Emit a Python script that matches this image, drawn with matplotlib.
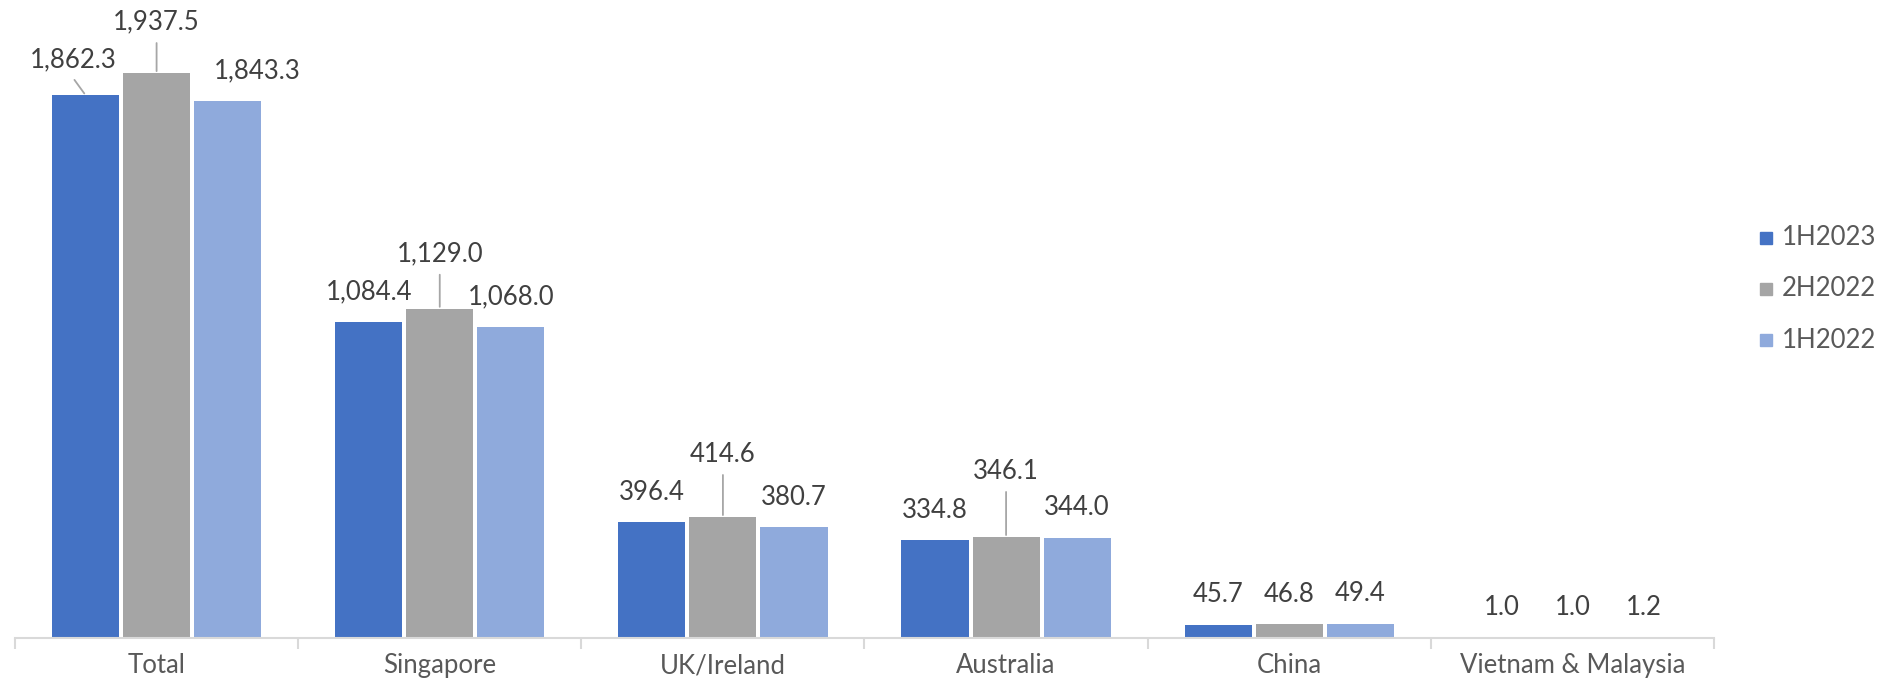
import matplotlib
matplotlib.use("Agg")
import matplotlib.pyplot as plt
from matplotlib.patches import Rectangle
import numpy as np

plt.rcParams['font.family'] = ['Lato', 'DejaVu Sans']

categories = ["Total", "Singapore", "UK/Ireland", "Australia", "China", "Vietnam & Malaysia"]
series_names = ["1H2023", "2H2022", "1H2022"]
v_1h2023 = [1862.3, 1084.4, 396.4, 334.8, 45.7, 1.0]
v_2h2022 = [1937.5, 1129.0, 414.6, 346.1, 46.8, 1.0]
v_1h2022 = [1843.3, 1068.0, 380.7, 344.0, 49.4, 1.2]
series_values = [v_1h2023, v_2h2022, v_1h2022]
colors = ["#4472C4", "#A5A5A5", "#8FAADC"]

FS = 18.5
W, H = 1883, 683
fig = plt.figure(figsize=(W / 100, H / 100), dpi=100)
ax_left, ax_right, ax_bottom, ax_top = 15, 1714, 638, 20
ax = fig.add_axes([ax_left / W, (H - ax_bottom) / H, (ax_right - ax_left) / W, (ax_bottom - ax_top) / H])

x = np.arange(len(categories))
bar_w = 0.237
step = 0.251
for i, (vals, c) in enumerate(zip(series_values, colors)):
    ax.bar(x + (i - 1) * step, vals, width=bar_w, color=c, zorder=2)

ax.set_xlim(-0.5, len(categories) - 0.5)
ax.set_ylim(0, 2120)
ax.set_yticks([])
for s in ["top", "left", "right"]:
    ax.spines[s].set_visible(False)
ax.spines["bottom"].set_color("#D9D9D9")
ax.spines["bottom"].set_linewidth(1.5)
ax.set_xticks(x)
ax.set_xticklabels(categories, fontsize=FS, color="#595959")
ax.tick_params(axis="x", which="major", length=0, pad=11)
ax.set_xticks(np.arange(-0.5, len(categories)), minor=True)
ax.tick_params(axis="x", which="minor", length=8, width=1.5, color="#D9D9D9", direction="out")

# label offsets in pixels (dx, dy) of label centre from bar top centre
default_off = (0, 30)
offsets = {
    (0, 0): (-12, 35),
    (2, 0): (30, 30),
    (1, 0): (0, 51),
    (1, 1): (0, 55),
    (1, 2): (0, 63),
    (1, 3): (0, 66),
}
leaders = {(0, 0): (0.45, 0.0), (1, 0): (0.5, 0.0), (1, 1): (0.5, 0.0), (1, 2): (0.5, 0.0), (1, 3): (0.5, 0.0)}

for i, vals in enumerate(series_values):
    for j, v in enumerate(vals):
        xp = x[j] + (i - 1) * step
        dx, dy = offsets.get((i, j), default_off)
        kw = {}
        if (i, j) in leaders:
            kw["arrowprops"] = dict(arrowstyle="-", color="#A6A6A6", lw=1.3,
                                    shrinkA=4, shrinkB=1.5, relpos=leaders[(i, j)])
        ax.annotate(f"{v:,.1f}", xy=(xp, v), xytext=(dx, dy), textcoords="offset pixels",
                    ha="center", va="center", fontsize=FS, color="#404040", **kw)

# legend drawn manually
leg_x_box, leg_x_text = 1760, 1782
leg_rows = [238, 289, 340]
for name, c, yc in zip(series_names, colors, leg_rows):
    fig.patches.append(Rectangle(((leg_x_box) / W, (H - yc - 6) / H), 12 / W, 12 / H,
                                 transform=fig.transFigure, color=c, figure=fig))
    fig.text(leg_x_text / W, (H - yc) / H, name, fontsize=FS, color="#595959", va="center", ha="left")

fig.savefig("out.png", dpi=100)
